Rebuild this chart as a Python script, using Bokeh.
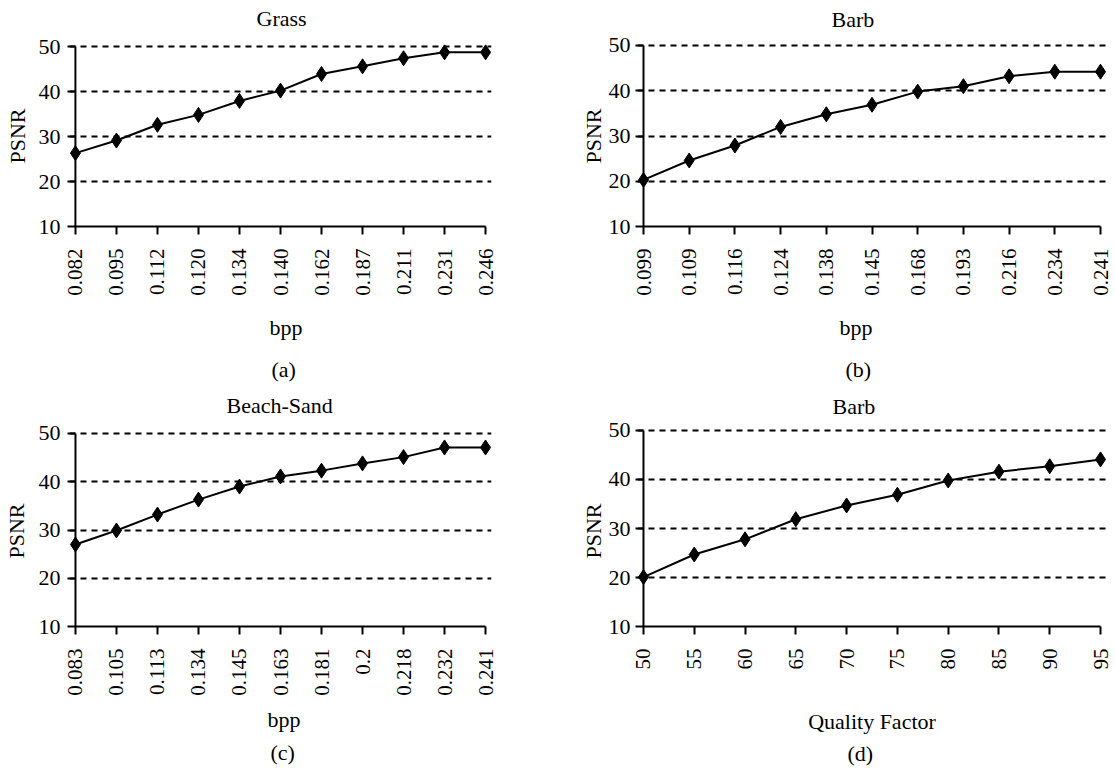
from math import pi, floor
from bokeh.plotting import figure
from bokeh.layouts import gridplot
from bokeh.models import FixedTicker, Range1d, Title
from bokeh.embed import file_html
from bokeh.resources import INLINE

# ---------------- data ----------------
grass_bpp = ["0.082", "0.095", "0.112", "0.120", "0.134", "0.140",
             "0.162", "0.187", "0.211", "0.231", "0.246"]
grass_psnr = [26.3, 29.1, 32.6, 34.8, 37.9, 40.2, 43.9, 45.6, 47.4, 48.7, 48.7]

barb_bpp = ["0.099", "0.109", "0.116", "0.124", "0.138", "0.145",
            "0.168", "0.193", "0.216", "0.234", "0.241"]
barb_psnr = [20.3, 24.6, 27.9, 32.0, 34.8, 36.9, 39.8, 41.0, 43.2, 44.2, 44.2]

sand_bpp = ["0.083", "0.105", "0.113", "0.134", "0.145", "0.163",
            "0.181", "0.2", "0.218", "0.232", "0.241"]
sand_psnr = [27.0, 29.9, 33.2, 36.3, 39.0, 41.1, 42.3, 43.8, 45.1, 47.1, 47.1]

qf_labels = ["50", "55", "60", "65", "70", "75", "80", "85", "90", "95"]
qf_psnr = [20.1, 24.7, 27.8, 31.9, 34.7, 36.9, 39.8, 41.6, 42.7, 44.1]

y_ticks = [10, 20, 30, 40, 50]
grid_levels = [20, 30, 40, 50]

FONT = "Liberation Serif"
XTICK_FS = 21
YTICK_FS = 22
LAB_FS = 22
TXT_H = LAB_FS * 1.107            # ascent + descent of a 22px line
TITLE_H = TXT_H + 2               # Bokeh adds 2px to every title panel
EXTRA = 5                         # extra room Bokeh keeps after rotated tick labels
PADX = 6   # px between frame edge and first/last point
PADY = 8   # px between the y=10 axis line and the frame bottom (= tick length)

# approximate advance widths (em) of a Times-metric serif font
CW = {'G': .722, 'r': .333, 'a': .444, 's': .389, 'B': .667, 'b': .5,
      'e': .444, 'c': .444, 'h': .5, '-': .333, 'S': .556, 'n': .5,
      'd': .5, 'Q': .722, 'u': .5, 'l': .278, 'i': .278, 't': .278,
      'y': .5, ' ': .25, 'F': .556, 'o': .5, 'p': .5, '(': .333,
      ')': .333, '.': .25}


def text_w(s, size):
    return sum(CW.get(c, 0.5) for c in s) * size


def make_title(text, standoff, offset, valign="bottom"):
    return Title(text=text, align="left", vertical_align=valign,
                 text_font=FONT, text_font_size=f"{LAB_FS}px",
                 text_font_style="normal", text_color="black",
                 standoff=max(0, int(standoff)), offset=round(offset))


def panel(labels, values, title, xlabel, caption, fig_x, fig_y, W, H,
          x0, x1, y50, y10, title_pos, ylab_x, xlab_pos, cap_x, ytick_gap,
          label_mode):
    n = len(labels)
    X0, X1 = x0 - fig_x, x1 - fig_x
    Y50, Y10 = y50 - fig_y, y10 - fig_y
    sp = (X1 - X0) / (n - 1)
    ppu = (Y10 - Y50) / (y_ticks[-1] - y_ticks[0])
    tx, ty = title_pos
    lb = round(X0 - PADX)
    rr = round(X1 + PADX)
    tb = min(round(2 * (ty - fig_y - 1) + 1.4), round(Y50 - 3))
    bt = round(Y10 + PADY)
    fl = fig_x + lb                         # frame left, page coords
    x_range = Range1d(-(X0 - lb) / sp, (n - 1) + (rr - X1) / sp)
    y_range = Range1d(y_ticks[0] - (bt - Y10) / ppu, y_ticks[-1] + (Y50 - tb) / ppu)

    p = figure(width=W, height=H, x_range=x_range, y_range=y_range,
               tools="", toolbar_location=None, output_backend="svg",
               min_border_left=lb, min_border_right=W - rr,
               min_border_top=tb, min_border_bottom=H - bt)
    p.outline_line_color = None
    p.background_fill_color = "white"
    p.border_fill_color = "white"

    p.add_layout(make_title(title, floor(tb - TITLE_H - 0.3),
                            tx - text_w(title, LAB_FS) / 2 - fl, "top"), "above")

    p.xgrid.visible = False
    p.ygrid.ticker = FixedTicker(ticks=grid_levels)
    p.ygrid.grid_line_color = "black"
    p.ygrid.grid_line_dash = "6 5"
    p.ygrid.grid_line_width = 2

    # x axis: ticks run from the y=10 line down to the frame edge
    xstand = 14
    xa = p.xaxis[0]
    xa.ticker = FixedTicker(ticks=list(range(n)))
    xa.major_label_overrides = {i: lab for i, lab in enumerate(labels)}
    xa.major_label_orientation = pi / 2
    xa.axis_line_color = None
    xa.major_tick_line_width = 2
    xa.major_tick_line_color = "black"
    xa.major_tick_in = round(bt - Y10)
    xa.major_tick_out = 0
    xa.minor_tick_line_color = None
    xa.major_label_standoff = xstand
    xa.major_label_text_font = FONT
    xa.major_label_text_font_size = f"{XTICK_FS}px"
    xa.major_label_text_color = "black"
    maxlen = max(text_w(s, XTICK_FS) for s in labels)
    P = fig_y + bt + xstand + maxlen + EXTRA   # end of tick-label panel, page coords
    bottom_limit = fig_y + H - 1.5

    # y axis
    ytick_in = X0 - lb
    ytick_out = 2
    ystand = max(0, round(ytick_gap - ytick_in - ytick_out))
    ya = p.yaxis[0]
    ya.ticker = FixedTicker(ticks=y_ticks)
    ya.axis_line_color = None
    ya.major_tick_line_width = 2
    ya.major_tick_line_color = "black"
    ya.major_tick_in = round(ytick_in)
    ya.major_tick_out = ytick_out
    ya.minor_tick_line_color = None
    ya.major_label_standoff = ystand
    ya.major_label_text_font = FONT
    ya.major_label_text_font_size = f"{YTICK_FS}px"
    ya.major_label_text_color = "black"
    ya.axis_label = "PSNR"
    ya.axis_label_text_font = FONT
    ya.axis_label_text_font_size = f"{LAB_FS}px"
    ya.axis_label_text_font_style = "normal"
    ya.axis_label_text_color = "black"
    D = lb - (ylab_x - fig_x)
    yls = D - (ytick_out + ystand + text_w("50", YTICK_FS) + TXT_H / 2)
    ya.axis_label_standoff = max(0, round(yls))

    # choose spacings below the axis that best match the wanted text centres
    lx, ly, cy = xlab_pos
    best = None
    for a in range(0, 80):
        if label_mode == "axis":
            c1 = P + a + TXT_H / 2
            E1 = P + a + TXT_H
        else:
            c1 = P + TITLE_H / 2 + a / 2
            E1 = P + TITLE_H + a
        for b in range(0, 60):
            c2 = E1 + TITLE_H / 2 + b / 2
            if E1 + TITLE_H + b > bottom_limit:
                break
            err = (c1 - ly) ** 2 + (c2 - cy) ** 2
            if best is None or err < best[0]:
                best = (err, a, b)
    _, a, b = best
    if label_mode == "axis":
        xa.axis_label = xlabel
        xa.axis_label_text_font = FONT
        xa.axis_label_text_font_size = f"{LAB_FS}px"
        xa.axis_label_text_font_style = "normal"
        xa.axis_label_text_color = "black"
        xa.axis_label_standoff = a
    else:
        p.add_layout(make_title(xlabel, a, lx - text_w(xlabel, LAB_FS) / 2 - fl), "below")
    p.add_layout(make_title(caption, b, cap_x - text_w(caption, LAB_FS) / 2 - fl), "below")

    # axis lines drawn along the data extent
    p.segment(x0=[0], y0=[y_ticks[0]], x1=[n - 1], y1=[y_ticks[0]],
              line_color="black", line_width=2)
    p.segment(x0=[0], y0=[y_ticks[0]], x1=[0], y1=[y_ticks[-1]],
              line_color="black", line_width=2)

    xs = list(range(n))
    p.line(xs, values, line_color="black", line_width=2)
    p.scatter(xs, values, marker="diamond", size=15,
              fill_color="black", line_color="black")
    return p


LW, RW, TH, BH = 566, 549, 384, 384

pa = panel(grass_bpp, grass_psnr, "Grass", "bpp", "(a)", 0, 0, LW, TH,
           72, 488, 46, 226, (278, 19), 17, (282, 331, 367), 280, 15, "title")
pb = panel(barb_bpp, barb_psnr, "Barb", "bpp", "(b)", LW, 0, RW, TH,
           643, 1100, 43, 226, (852, 18), 598, (855, 331, 367), 858, 13, "title")
pc = panel(sand_bpp, sand_psnr, "Beach-Sand", "bpp", "(c)", 0, TH, LW, BH,
           73, 485, 433, 627, (277, 406), 17, (282, 719, 757), 280, 15, "title")
pd = panel(qf_labels, qf_psnr, "Barb", "Quality Factor", "(d)", LW, TH, RW, BH,
           643, 1102, 428, 626, (853, 406), 598, (857, 719, 757), 860, 13, "axis")

layout = gridplot([[pa, pb], [pc, pd]], toolbar_location=None)

open("out.html", "w").write(file_html(layout, INLINE))
